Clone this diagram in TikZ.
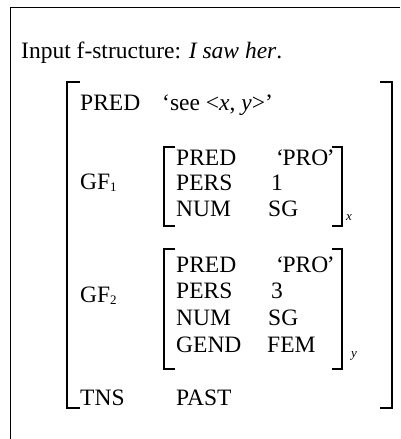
\documentclass[tikz,border=0pt]{standalone}
\usepackage{fontspec}
\setmainfont{Liberation Serif}
\newcommand{\quoted}[1]{‘\kern-1.5pt #1\kern-1.5pt’}
\begin{document}
\begin{tikzpicture}[x=1pt,y=-1pt,
  lbl/.style={anchor=base west,inner sep=0pt,font=\fontsize{23.5}{28}\selectfont},
  idx/.style={anchor=base west,inner sep=0pt,font=\fontsize{13}{15}\selectfont\itshape},
  brk/.style={line width=1.2pt,line join=miter,line cap=butt},
  frame/.style={line width=1pt}]
\useasboundingbox (0,0) rectangle (400,439);
% partial frame
\draw[frame] (10.5,439) -- (10.5,7) -- (400,7);
% heading
\node[lbl] (title) at (21,58) {Input f-structure: \textit{I saw her}.};
% outer attribute-value matrix
\draw[brk] (80,82) -- (67,82) -- (67,408) -- (80,408);
\draw[brk] (380,82) -- (392,82) -- (392,408) -- (380,408);
\node[lbl] (pred) at (80,110) {PRED};
\node[lbl] (predv) at (162,110) {‘see <\textit{x}, \textit{y}>’};
% first grammatical function
\node[lbl] (gf1) at (80,189) {GF\raisebox{-0.25ex}{\fontsize{13}{13}\selectfont 1}};
\draw[brk] (175,147) -- (164,147) -- (164,226) -- (175,226);
\draw[brk] (332,147) -- (342,147) -- (342,226) -- (332,226);
\node[lbl] (p1) at (176,165) {PRED};
\node[lbl] (p1v) at (276,165) {\quoted{PRO}};
\node[lbl] (s1) at (176,190) {PERS};
\node[lbl] (s1v) at (271,190) {1};
\node[lbl] (n1) at (176,216) {NUM};
\node[lbl] (n1v) at (268,216) {SG};
\node[idx] (ix) at (346,220) {x};
% second grammatical function
\node[lbl] (gf2) at (80,302) {GF\raisebox{-0.25ex}{\fontsize{13}{13}\selectfont 2}};
\draw[brk] (175,249) -- (164,249) -- (164,369) -- (175,369);
\draw[brk] (332,249) -- (342,249) -- (342,369) -- (332,369);
\node[lbl] (p2) at (176,272) {PRED};
\node[lbl] (p2v) at (276,272) {\quoted{PRO}};
\node[lbl] (s2) at (176,298) {PERS};
\node[lbl] (s2v) at (271,298) {3};
\node[lbl] (n2) at (176,325) {NUM};
\node[lbl] (n2v) at (268,325) {SG};
\node[lbl] (g2) at (176,352) {GEND};
\node[lbl] (g2v) at (267,352) {FEM};
\node[idx] (iy) at (351,357) {y};
% tense
\node[lbl] (tns) at (80,405) {TNS};
\node[lbl] (tnsv) at (176,405) {PAST};
\end{tikzpicture}
\end{document}
